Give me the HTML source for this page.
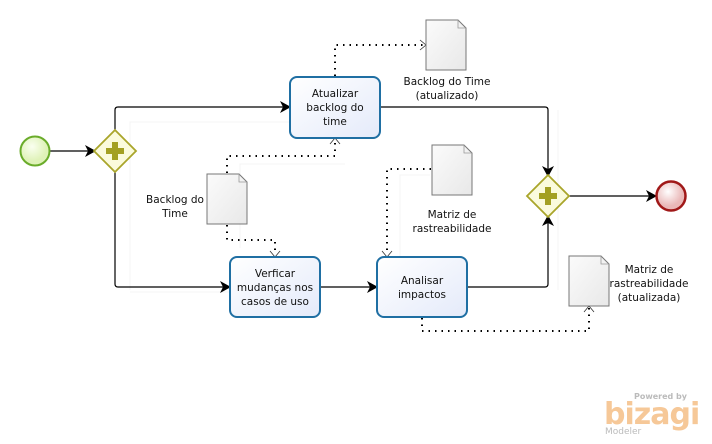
<!DOCTYPE html>
<html><head><meta charset="utf-8"><style>
html,body{margin:0;padding:0;background:#fff;width:712px;height:444px;overflow:hidden}
text{font-family:"DejaVu Sans","Liberation Sans",sans-serif;font-size:10.5px;fill:#111}
</style></head><body>
<svg width="712" height="444" viewBox="0 0 712 444" xmlns="http://www.w3.org/2000/svg">
<defs>
<linearGradient id="tg" x1="0" y1="0" x2="1" y2="1"><stop offset="0" stop-color="#fff"/><stop offset="1" stop-color="#e4eafa"/></linearGradient>
<linearGradient id="dg" x1="0" y1="0" x2="1" y2="1"><stop offset="0" stop-color="#fbfbfb"/><stop offset="1" stop-color="#e8e8e8"/></linearGradient>
<radialGradient id="sg" cx="0.4" cy="0.35"><stop offset="0" stop-color="#fafff0"/><stop offset="1" stop-color="#dff2b8"/></radialGradient>
<radialGradient id="eg" cx="0.4" cy="0.35"><stop offset="0" stop-color="#fff"/><stop offset="1" stop-color="#eab8b8"/></radialGradient>
</defs>
<!-- faint shadows -->
<g fill="none" stroke="#f4f4f4" stroke-width="1">
<path d="M130 290 V122 H290"/><path d="M130 292 H230"/><path d="M400 317 V175 H430"/><path d="M558 290 V110"/><path d="M240 248 V164 H345"/>
</g>
<!-- sequence flows -->
<g fill="none" stroke="#000" stroke-width="1.2">
<path d="M50 151 H95"/>
<path d="M115 131 V110 Q115 107 118 107 H290"/>
<path d="M115 171 V284 Q115 287 118 287 H230"/>
<path d="M320 287 H377"/>
<path d="M380 107 H545 Q548 107 548 110 V176"/>
<path d="M467 287 H545 Q548 287 548 284 V216"/>
<path d="M568 196 H656"/>
</g>
<g fill="#000">
<path d="M96 151 l-11 -6 l3 6 l-3 6z"/>
<path d="M291 107 l-11 -6 l3 6 l-3 6z"/>
<path d="M231 287 l-11 -6 l3 6 l-3 6z"/>
<path d="M378 287 l-11 -6 l3 6 l-3 6z"/>
<path d="M657 196 l-11 -6 l3 6 l-3 6z"/>
<path d="M548 177 l-6 -11 l6 3 l6 -3z"/>
<path d="M548 215 l-6 11 l6 -3 l6 3z"/>
</g>
<!-- associations -->
<g fill="none" stroke="#000" stroke-width="2" stroke-dasharray="1.5 5">
<path d="M335 76 V45 H424"/>
<path d="M227 173 V156 H335 V140"/>
<path d="M227 225 V240 H275 V255"/>
<path d="M431 169 H387 V255"/>
<path d="M422 318 V331 H589 V308"/>
</g>
<g fill="none" stroke="#333" stroke-width="0.8">
<path d="M420 40 l6 5 l-6 5"/>
<path d="M330 144 l5 -6 l5 6"/>
<path d="M270 251 l5 6 l5 -6"/>
<path d="M382 251 l5 6 l5 -6"/>
<path d="M584 312 l5 -6 l5 6"/>
</g>
<!-- events -->
<circle cx="35" cy="151" r="14.5" fill="url(#sg)" stroke="#6aac2a" stroke-width="2"/>
<circle cx="671" cy="196" r="14.5" fill="url(#eg)" stroke="#a01818" stroke-width="2.5"/>
<!-- gateways -->
<g>
<path d="M115 130 L136 151 L115 172 L94 151Z" fill="#fbfbdc" stroke="#a9a52a" stroke-width="1.8"/>
<path d="M112 142 h6 v6 h6 v6 h-6 v6 h-6 v-6 h-6 v-6 h6z" fill="#a3a022"/>
<path d="M548 175 L569 196 L548 217 L527 196Z" fill="#fbfbdc" stroke="#a9a52a" stroke-width="1.8"/>
<path d="M545 187 h6 v6 h6 v6 h-6 v6 h-6 v-6 h-6 v-6 h6z" fill="#a3a022"/>
</g>
<!-- tasks -->
<g stroke="#1f6fa3" stroke-width="2" fill="url(#tg)">
<rect x="290" y="77" width="90" height="61" rx="7"/>
<rect x="230" y="257" width="90" height="60" rx="7"/>
<rect x="377" y="257" width="90" height="60" rx="7"/>
</g>
<g text-anchor="middle">
<text x="335" y="97">Atualizar</text><text x="335" y="111">backlog do</text><text x="335" y="125">time</text>
<text x="275" y="277">Verficar</text><text x="275" y="291">mudanças nos</text><text x="275" y="305">casos de uso</text>
<text x="422" y="284">Analisar</text><text x="422" y="298">impactos</text>
</g>
<!-- documents -->
<g fill="url(#dg)" stroke="#777" stroke-width="1">
<path d="M426 20 H458 L466 28 V70 H426Z"/>
<path d="M207 174 H239 L247 182 V224 H207Z"/>
<path d="M432 145 H464 L472 153 V195 H432Z"/>
<path d="M569 256 H601 L609 264 V306 H569Z"/>
</g>
<g fill="none" stroke="#999" stroke-width="0.8">
<path d="M458 20 V28 H466"/><path d="M239 174 V182 H247"/><path d="M464 145 V153 H472"/><path d="M601 256 V264 H609"/>
</g>
<g text-anchor="middle">
<text x="447" y="85">Backlog do Time</text><text x="447" y="99">(atualizado)</text>
<text x="175" y="203">Backlog do</text><text x="175" y="217">Time</text>
<text x="452" y="218">Matriz de</text><text x="452" y="232">rastreabilidade</text>
<text x="649" y="273">Matriz de</text><text x="649" y="287">rastreabilidade</text><text x="649" y="301">(atualizada)</text>
</g>
<!-- logo -->
<text x="687" y="399" text-anchor="end" style="font-size:8px;fill:#bbb;font-weight:bold">Powered by</text>
<text x="604" y="424" style="font-size:30px;fill:#f6c898;font-weight:bold;letter-spacing:-1px">bizagi</text>
<text x="605" y="434" style="font-size:9px;fill:#bbb">Modeler</text>
</svg>
</body></html>
